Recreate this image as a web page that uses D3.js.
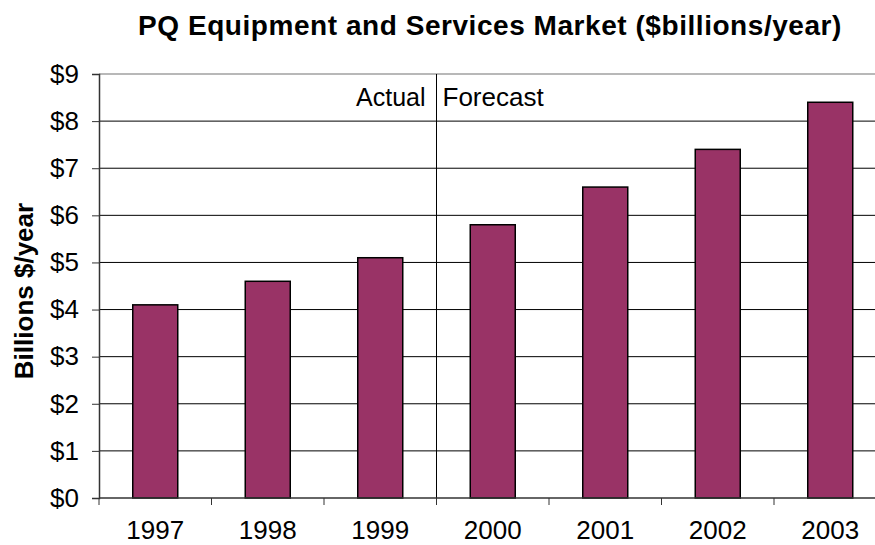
<!DOCTYPE html>
<html>
<head>
<meta charset="utf-8">
<script src="https://cdn.jsdelivr.net/npm/d3@7"></script>
<style>
  body { margin: 0; background: #fff; }
  svg { font-family: "Liberation Sans", Arial, sans-serif; }
</style>
</head>
<body>
<svg id="chart" width="875" height="545"></svg>
<script>
const years = ["1997", "1998", "1999", "2000", "2001", "2002", "2003"];
const market = [4.1, 4.6, 5.1, 5.8, 6.6, 7.4, 8.4];
const yTicks = [0, 1, 2, 3, 4, 5, 6, 7, 8, 9];
const splitAfter = "1999";

const svg = d3.select("#chart");
const margin = { top: 74, left: 99, bottom: 47 };
const width = 875, height = 545;
const plotRight = margin.left + 787.5; // plot runs off the right edge

const x = d3.scaleBand()
    .domain(years)
    .range([margin.left, plotRight])
    .paddingInner(0.6)
    .paddingOuter(0.3);

const y = d3.scaleLinear()
    .domain([0, 9])
    .range([height - margin.bottom, margin.top]);

// gridlines
svg.append("g")
    .selectAll("line")
    .data(yTicks.filter(d => d > 0))
    .enter()
    .append("line")
    .attr("x1", margin.left)
    .attr("x2", plotRight)
    .attr("y1", d => y(d))
    .attr("y2", d => y(d))
    .attr("stroke", d => d === 9 ? "#a0a0a0" : "#000")
    .attr("stroke-width", d => d === 9 ? 1.5 : 1);

// bars
svg.append("g")
    .selectAll("rect")
    .data(years)
    .enter()
    .append("rect")
    .attr("x", d => x(d))
    .attr("y", (d, i) => y(market[i]))
    .attr("width", x.bandwidth())
    .attr("height", (d, i) => y(0) - y(market[i]))
    .attr("fill", "#993366")
    .attr("stroke", "#000")
    .attr("stroke-width", 1.5);

// actual / forecast divider
const step = x.step();
const splitX = x(splitAfter) + x.bandwidth() + (step - x.bandwidth()) / 2;
svg.append("line")
    .attr("x1", splitX).attr("x2", splitX)
    .attr("y1", y(9)).attr("y2", y(0))
    .attr("stroke", "#000")
    .attr("stroke-width", 1);

svg.append("text")
    .attr("x", splitX - 11)
    .attr("y", 105.5)
    .attr("text-anchor", "end")
    .attr("font-size", 25)
    .text("Actual");

svg.append("text")
    .attr("x", splitX + 6)
    .attr("y", 105.5)
    .attr("font-size", 26)
    .text("Forecast");

// y axis
const yAxis = d3.axisLeft(y)
    .tickValues(yTicks)
    .tickFormat(d => "$" + d)
    .tickSize(7)
    .tickPadding(13);

const gy = svg.append("g")
    .attr("transform", `translate(${margin.left},0)`)
    .call(yAxis);
gy.select(".domain").attr("stroke", "#333").attr("stroke-width", 1.5);
gy.selectAll(".tick line").attr("stroke", "#333");
gy.selectAll(".tick text")
    .attr("font-size", 26)
    .attr("fill", "#000")
    .attr("font-family", "Liberation Sans, Arial, sans-serif");

// x axis: ticks between categories
const gx = svg.append("g")
    .attr("transform", `translate(0,${y(0)})`);
gx.append("line")
    .attr("x1", margin.left).attr("x2", plotRight)
    .attr("stroke", "#333").attr("stroke-width", 1.5);
gx.selectAll(".tk")
    .data(d3.range(years.length + 1))
    .enter()
    .append("line")
    .attr("x1", i => margin.left + i * step)
    .attr("x2", i => margin.left + i * step)
    .attr("y1", 0).attr("y2", 7)
    .attr("stroke", "#333");
gx.selectAll(".lbl")
    .data(years)
    .enter()
    .append("text")
    .attr("x", d => x(d) + x.bandwidth() / 2)
    .attr("y", 41)
    .attr("text-anchor", "middle")
    .attr("font-size", 26)
    .text(d => d);

// titles
svg.append("text")
    .attr("x", 490)
    .attr("y", 35)
    .attr("text-anchor", "middle")
    .attr("font-size", 28)
    .attr("font-weight", "bold")
    .attr("letter-spacing", 0.55)
    .text("PQ Equipment and Services Market ($billions/year)");

svg.append("text")
    .attr("transform", `translate(33,291) rotate(-90)`)
    .attr("text-anchor", "middle")
    .attr("font-size", 26)
    .attr("font-weight", "bold")
    .text("Billions $/year");
</script>
</body>
</html>
